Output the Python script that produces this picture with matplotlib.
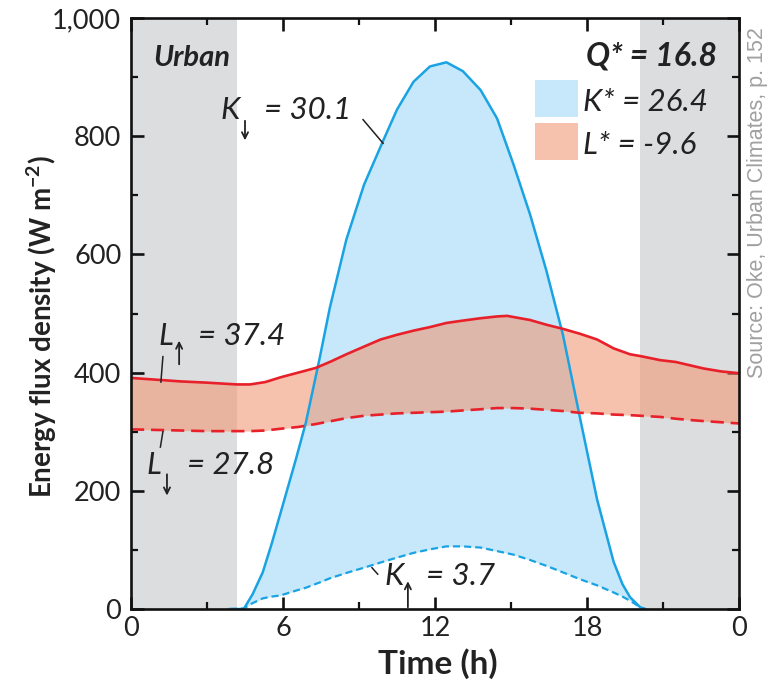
import matplotlib
matplotlib.use('Agg')
import matplotlib.pyplot as plt
from matplotlib.patches import Rectangle
from matplotlib.ticker import MultipleLocator, FixedLocator, FuncFormatter

plt.rcParams['font.family'] = ['Lato', 'DejaVu Sans']
plt.rcParams['mathtext.fontset'] = 'custom'
plt.rcParams['mathtext.rm'] = 'Lato:bold'
plt.rcParams['mathtext.it'] = 'Lato:bold:italic'
plt.rcParams['mathtext.bf'] = 'Lato:bold'

# ---------------- data ----------------
night_end = 4.17
night_start = 20.1

k_hours = [3.9, 4.45, 4.8, 5.2, 5.55, 5.9, 6.5, 6.9, 7.45, 7.85, 8.5, 9.2, 9.95, 10.5,
           11.15, 11.8, 12.45, 13.1, 13.8, 14.45, 15.1, 15.75, 16.4, 17.05, 17.75,
           18.4, 19.05, 19.4, 19.7, 20.1, 20.3]
k_down = [0, 0, 25, 62, 110, 162, 252, 315, 425, 510, 625, 718, 792, 845,
          892, 918, 925, 910, 878, 830, 752, 668, 572, 464, 318,
          185, 80, 42, 20, 3, 0]
k_up = [0, 1, 10, 18, 21, 23, 31, 36, 45, 52, 61, 70, 80, 87,
        95, 101, 106, 106, 104, 98, 92, 83, 73, 62, 50,
        40, 28, 21, 14, 3, 0]

l_hours = [0, 1, 2, 3, 4.17, 4.7, 5.3, 5.9, 6.6, 7.3, 7.9, 8.5, 9.2, 9.85, 10.5,
           11.15, 11.8, 12.45, 13.1, 13.8, 14.45, 14.85, 15.1, 15.75, 16.4, 17.05,
           17.7, 18.4, 19.05, 19.7, 20.1, 20.9, 21.5, 22.0, 22.6, 23.3, 24]
l_up = [391, 388, 385, 383, 380, 380, 384, 392, 400, 408, 419, 431, 444, 456, 464,
        471, 477, 484, 488, 492, 495, 496, 494, 489, 481, 474,
        466, 456, 441, 431, 428, 421, 418, 413, 407, 402, 399]
l_down = [304, 303, 302, 301, 301, 301, 302, 305, 308, 313, 318, 323, 327, 329, 331,
          332, 333, 334, 336, 338, 340, 340, 340, 339, 337, 335,
          332, 331, 329, 328, 327, 325, 322, 320, 318, 316, 314]

x_ticks = [0, 6, 12, 18, 24]
x_tick_labels = ['0', '6', '12', '18', '0']
y_ticks = [0, 200, 400, 600, 800, 1000]

q_star = '16.8'
k_star = '26.4'
l_star = '-9.6'
k_down_total = '30.1'
k_up_total = '3.7'
l_up_total = '37.4'
l_down_total = '27.8'

# ---------------- style ----------------
BLUE_LINE = '#1aa3e3'
BLUE_FILL = '#c6e8fa'
RED_LINE = '#e8202a'
SALMON = '#f2926d'
SALMON_ALPHA = 0.56
GRAY = '#dcdddf'
TXT = '#222222'
ANN = 22.5

fig = plt.figure(figsize=(7.71, 6.86), dpi=100)
ax = fig.add_axes([0.1699, 0.1122, 0.9585 - 0.1699, 0.9738 - 0.1122])

ax.axvspan(0, night_end, color=GRAY, lw=0, zorder=0)
ax.axvspan(night_start, 24, color=GRAY, lw=0, zorder=0)

ax.fill_between(k_hours, k_up, k_down, color=BLUE_FILL, lw=0, zorder=1)
ax.fill_between(l_hours, l_down, l_up, color=SALMON, alpha=SALMON_ALPHA, lw=0, zorder=2)

ax.plot(k_hours, k_down, color=BLUE_LINE, lw=1.8, zorder=3, solid_joinstyle='round')
ax.plot(k_hours, k_up, color=BLUE_LINE, lw=1.6, ls=(0, (3.2, 1.8)), zorder=3)
ax.plot(l_hours, l_up, color=RED_LINE, lw=1.9, zorder=4, solid_joinstyle='round')
ax.plot(l_hours, l_down, color=RED_LINE, lw=1.9, ls=(0, (5, 2.6)), zorder=4)

ax.set_xlim(0, 24)
ax.set_ylim(0, 1000)
ax.xaxis.set_major_locator(FixedLocator(x_ticks))
ax.set_xticklabels(x_tick_labels)
ax.xaxis.set_minor_locator(FixedLocator([3, 9, 15, 21]))
ax.yaxis.set_major_locator(FixedLocator(y_ticks))
ax.yaxis.set_minor_locator(MultipleLocator(100))
ax.yaxis.set_major_formatter(FuncFormatter(lambda v, p: f'{int(v):,}'))

ax.tick_params(which='both', direction='in', top=True, right=True, colors='#111111',
               labelcolor=TXT)
ax.tick_params(which='major', length=9, width=1.9, labelsize=19.5, pad=7)
ax.tick_params(which='minor', length=5, width=1.6)
ax.tick_params(axis='x', which='major', pad=5)
for s in ax.spines.values():
    s.set_linewidth(1.9)
    s.set_color('#111111')
    s.set_zorder(6)

ax.set_xlabel('Time (h)', fontsize=24, fontweight='bold', color=TXT)
ax.xaxis.set_label_coords(0.505, -0.066)
ax.set_ylabel('Energy flux density (W m$^{-2}$)', fontsize=20, fontweight='bold',
              color=TXT, va='center')
ax.yaxis.set_label_coords(-0.146, 0.477)

ax.text(0.87, 919, 'Urban', fontsize=21, fontweight='bold', style='italic', color=TXT,
        va='baseline', zorder=7)

arrow_kw = dict(arrowstyle='->', lw=1.3, color=TXT, mutation_scale=11, shrinkA=0, shrinkB=0)

# K down
ax.text(3.55, 829, 'K', fontsize=ANN, style='italic', color=TXT, va='baseline', zorder=7)
ax.text(5.24, 829, '= ' + k_down_total, fontsize=ANN, style='italic', color=TXT,
        va='baseline', zorder=7)
ax.annotate('', xy=(4.5, 793), xytext=(4.5, 826), arrowprops=arrow_kw)
ax.plot([9.16, 9.95], [828, 788], color=TXT, lw=1.1, zorder=7)

# L up
ax.text(1.1, 447, 'L', fontsize=ANN, style='italic', color=TXT, va='baseline', zorder=7)
ax.text(2.64, 447, '= ' + l_up_total, fontsize=ANN, style='italic', color=TXT,
        va='baseline', zorder=7)
ax.annotate('', xy=(1.9, 454), xytext=(1.9, 414), arrowprops=arrow_kw)
ax.plot([1.26, 1.18], [427, 384], color=TXT, lw=1.1, zorder=7)

# L down
ax.text(0.6, 228, 'L', fontsize=ANN, style='italic', color=TXT, va='baseline', zorder=7)
ax.text(2.21, 228, '= ' + l_down_total, fontsize=ANN, style='italic', color=TXT,
        va='baseline', zorder=7)
ax.annotate('', xy=(1.42, 192), xytext=(1.42, 228), arrowprops=arrow_kw)
ax.plot([1.26, 1.16], [300, 274], color=TXT, lw=1.1, zorder=7)

# K up
ax.text(10.0, 40.6, 'K', fontsize=ANN, style='italic', color=TXT, va='baseline', zorder=7)
ax.text(11.64, 40.6, '= ' + k_up_total, fontsize=ANN, style='italic', color=TXT,
        va='baseline', zorder=7)
ax.annotate('', xy=(10.93, 47), xytext=(10.93, 3), arrowprops=arrow_kw)
ax.plot([9.51, 9.74], [70, 59], color=TXT, lw=1.1, zorder=7)

# Q* and legend
ax.text(23.13, 919, 'Q* = ' + q_star, fontsize=23, fontweight='bold', style='italic',
        color=TXT, ha='right', va='baseline', zorder=7)
ax.add_patch(Rectangle((15.93, 832), 1.71, 63, color=BLUE_FILL, lw=0, zorder=5))
ax.add_patch(Rectangle((15.93, 760), 1.71, 62, color=SALMON, alpha=SALMON_ALPHA, lw=0, zorder=5))
ax.text(17.84, 843, 'K* = ' + k_star, fontsize=ANN, style='italic', color=TXT,
        ha='left', va='baseline', zorder=7)
ax.text(17.84, 770, 'L* = ' + l_star, fontsize=ANN, style='italic', color=TXT,
        ha='left', va='baseline', zorder=7)

fig.text(0.982, 0.449, 'Source: Oke, Urban Climates, p. 152', rotation=90,
         fontsize=15.5, color='#a0a0a0', ha='center', va='bottom',
         family=['Liberation Sans', 'DejaVu Sans'])

fig.savefig('out.png', dpi=100)
